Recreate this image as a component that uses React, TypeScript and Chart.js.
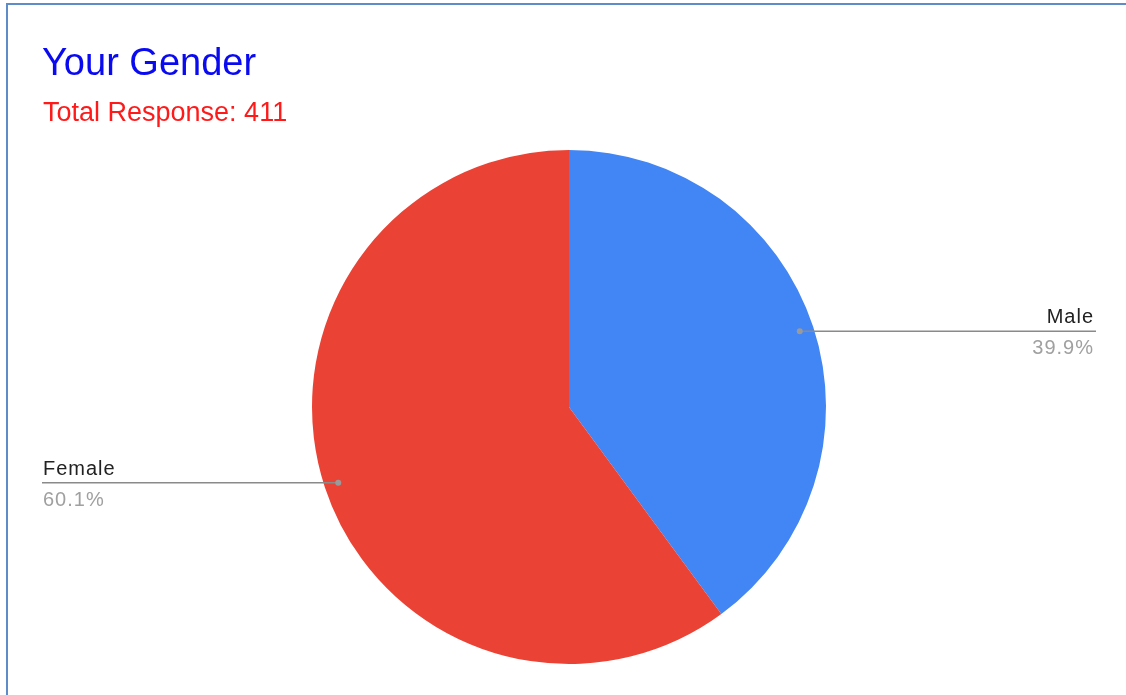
import React, { useEffect, useRef } from "react";
import { Chart, registerables } from "chart.js";

Chart.register(...registerables);

const titleText = "Your Gender";
const subtitleText = "Total Response: 411";
const categories = ["Male", "Female"];
const counts = [164, 247];
const percentLabels = ["39.9%", "60.1%"];
const sliceColors = ["#4285f4", "#ea4335"];

const W = 1126;
const H = 695;

const labelPlugin = {
  id: "gcLabels",
  afterDraw(chart: any) {
    const ctx = chart.ctx as CanvasRenderingContext2D;
    ctx.save();
    // Title and subtitle
    ctx.textAlign = "left";
    ctx.textBaseline = "alphabetic";
    ctx.fillStyle = "#0a0af0";
    ctx.font = "38px 'Liberation Sans', Arial, sans-serif";
    ctx.fillText(titleText, 42, 75);
    ctx.fillStyle = "#ff1a1a";
    ctx.font = "27px 'Liberation Sans', Arial, sans-serif";
    ctx.fillText(subtitleText, 43, 121);

    // Leader lines
    const meta = chart.getDatasetMeta(0);
    meta.data.forEach((arc: any, i: number) => {
      const p = arc.getProps(["x", "y", "startAngle", "endAngle", "outerRadius"], true);
      const mid = (p.startAngle + p.endAngle) / 2;
      const r = p.outerRadius * 0.945;
      const dx = p.x + Math.cos(mid) * r;
      const dy = p.y + Math.sin(mid) * r;
      const right = Math.cos(mid) >= 0;
      const endX = right ? 1096 : 42;
      ctx.strokeStyle = "#8a8a8a";
      ctx.lineWidth = 1.5;
      ctx.beginPath();
      ctx.moveTo(dx, dy);
      ctx.lineTo(endX, dy);
      ctx.stroke();
      ctx.fillStyle = "#9a9a9a";
      ctx.beginPath();
      ctx.arc(dx, dy, 3, 0, Math.PI * 2);
      ctx.fill();
      ctx.textAlign = right ? "right" : "left";
      const tx = right ? endX - 2 : endX + 1;
      (ctx as any).letterSpacing = "1px";
      ctx.font = "20px 'Liberation Sans', Arial, sans-serif";
      ctx.fillStyle = "#222222";
      ctx.fillText(categories[i], tx, dy - 8);
      ctx.fillStyle = "#a0a0a0";
      ctx.fillText(percentLabels[i], tx, dy + 23);
      (ctx as any).letterSpacing = "0px";
    });
    ctx.restore();
  },
};

export default function App() {
  const ref = useRef<HTMLCanvasElement | null>(null);
  useEffect(() => {
    if (!ref.current) return;
    const chart = new Chart(ref.current, {
      type: "pie",
      data: {
        labels: categories,
        datasets: [
          {
            data: counts,
            backgroundColor: sliceColors,
            borderWidth: 0,
          },
        ],
      },
      options: {
        responsive: false,
        animation: false,
        devicePixelRatio: 1,
        layout: { padding: { top: 150, bottom: 31, left: 312, right: 300 } },
        plugins: {
          legend: { display: false },
          tooltip: { enabled: false },
        },
      },
      plugins: [labelPlugin],
    });
    return () => chart.destroy();
  }, []);
  return (
    <div style={{ position: "fixed", left: 0, top: 0, width: W, height: H, background: "#fff", overflow: "hidden" }}>
      <div
        style={{
          position: "absolute",
          left: 6,
          top: 3,
          width: W + 20,
          height: H + 20,
          borderLeft: "2px solid #5e8cc8",
          borderTop: "2px solid #5e8cc8",
        }}
      />
      <canvas ref={ref} width={W} height={H} style={{ position: "absolute", left: 0, top: 0, width: W, height: H }} />
    </div>
  );
}
